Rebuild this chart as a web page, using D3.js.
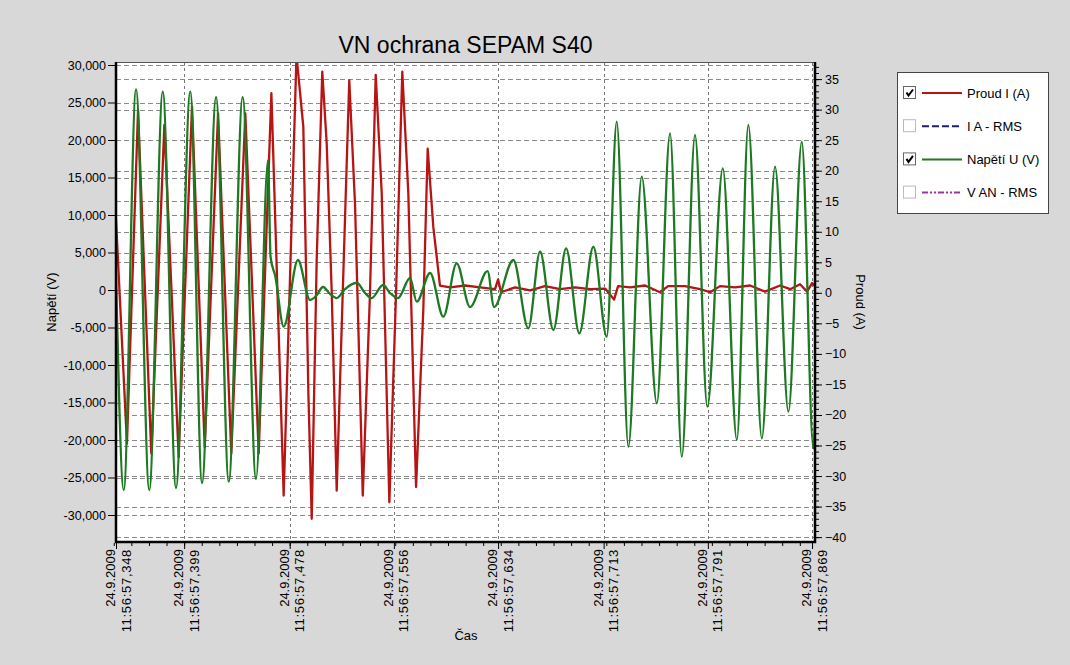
<!DOCTYPE html>
<html>
<head>
<meta charset="utf-8">
<script src="https://cdn.jsdelivr.net/npm/d3@7"></script>
<style>
body { margin: 0; background: #d8d8d8; }
text { font-family: 'Liberation Sans', Arial, sans-serif; fill: #000; }
</style>
</head>
<body>
<div id="chart"></div>
<script>
// time in ms after 11:56:57 (24.9.2009)
const timeTicks = [348, 399, 478, 556, 634, 713, 791, 869];
const timeTickLabels = ['11:56:57,348', '11:56:57,399', '11:56:57,478', '11:56:57,556',
    '11:56:57,634', '11:56:57,713', '11:56:57,791', '11:56:57,869'];
const dateLabel = '24.9.2009';

const voltTicks = [-30000, -25000, -20000, -15000, -10000, -5000, 0, 5000, 10000, 15000, 20000, 25000, 30000];
const currTicks = [-40, -35, -30, -25, -20, -15, -10, -5, 0, 5, 10, 15, 20, 25, 30, 35];

// Napětí U (V)
const voltTime = [348.0, 353.8, 363.0, 372.9, 383.0, 392.9, 403.6, 412.4, 422.9, 432.4, 442.8, 452.8,
    461.8, 463.7, 467.3, 473.5, 484.2, 493.2, 497.7, 503.0, 508.2, 513.2, 519.4, 528.2, 534.4, 539.4,
    547.9, 553.1, 559.1, 568.1, 573.1, 583.1, 593.0, 603.0, 613.0, 626.1, 631.0, 645.4, 656.6, 665.4,
    675.4, 684.9, 694.8, 705.3, 715.3, 722.8, 731.5, 741.5, 752.8, 762.7, 771.5, 781.4, 790.6, 802.2,
    812.7, 821.3, 831.4, 841.3, 851.3, 861.3, 870.0, 871.2];
const voltValue = [2000, -26670, 26760, -26670, 26440, -26400, 26440, -25730, 25730, -25560, 25730, -25200,
    17330, 4400, 1770, -4890, 4000, -1330, -800, 400, -530, -1070, 130, 970, -400, -1070,
    670, -400, -1070, 1600, -1560, 2270, -3560, 3560, -2270, 2530, -2270, 4000, -5110, 5110,
    -5330, 5560, -5770, 5770, -6230, 22440, -20900, 15110, -15110, 20890, -22230, 20670, -15560, 16230,
    -20000, 22000, -19780, 16440, -16230, 19770, -21110, -17300];

// Proud I (A)
const currTime = [348.0, 356.2, 364.5, 374.4, 384.2, 394.9, 404.9, 414.4, 424.4, 434.3, 444.8, 454.8,
    464.3, 473.5, 483.1, 488.2, 489.5, 492.0, 494.5, 498.2, 502.4, 505.7, 509.5, 513.2, 517.7, 522.6,
    526.9, 529.4, 532.7, 538.1, 542.4, 546.9, 549.4, 552.6, 557.6, 562.3, 566.8, 570.1, 572.6, 578.0,
    581.3, 585.5, 590.5, 598.0, 609.3, 620.5, 631.7, 634.0, 636.2, 646.7, 657.9, 669.1, 680.4, 691.6,
    702.8, 714.1, 720.8, 723.8, 732.8, 744.0, 755.2, 761.2, 773.9, 785.2, 792.7, 800.1, 811.4, 822.6,
    833.8, 845.1, 852.6, 860.0, 865.3, 869.0, 871.2];
const currValue = [12, -24.7, 29.9, -26.3, 27.5, -26.9, 30.5, -25.3, 29.4, -26.3, 29.4, -26.3,
    32.7, -33.2, 38.9, 27.2, 12.4, -16.5, -37.0, 5.3, 36.2, 24.5, -0.1, -32.4, -0.1, 34.8,
    14.6, -5.6, -33.2, -0.1, 35.7, 16.3, -5.6, -34.3, -0.1, 36.2, 16.3, -11.1, -31.8, -2.9,
    23.6, 10.8, 1.2, 0.9, 1.2, 0.9, 0.6, 2.2, 0.1, 0.9, 0.4, 1.1, 0.6, 0.9,
    0.6, 0.7, -1.1, 1.1, 0.9, 1.2, 0.1, 1.1, 1.1, 0.6, 0.1, 1.1, 0.9, 1.2,
    0.2, 1.2, 0.6, 1.4, 0.2, 1.6, 1.1];

const legendLabels = ['Proud I (A)', 'I A - RMS', 'Napětí U (V)', 'V AN - RMS'];
const legendColors = ['#b81414', '#1c1c78', '#1d7a22', '#a030a8'];
const legendDash = [null, '7,3', null, '6,2,2,2,2,2'];
const legendChecked = [true, false, true, false];

const width = 1070,
    height = 665,
    plot = { left: 116, right: 815, top: 62, bottom: 542 },
    fmt = d3.formatLocale({ decimal: '.', thousands: ',', grouping: [3], currency: ['', ''], minus: '-' }).format(',');

let svg = d3.select('#chart')
    .append('svg')
        .attr('width', width)
        .attr('height', height);

svg.append('rect')
    .attr('width', width)
    .attr('height', height)
    .attr('fill', '#d8d8d8');

let x = d3.scaleLinear().domain([348, 871.2]).range([plot.left, plot.right]),
    yV = d3.scaleLinear().domain([-33600, 30400]).range([plot.bottom, plot.top]),
    yI = d3.scaleLinear().domain([-40.8, 37.8]).range([plot.bottom, plot.top]);

// plot background
svg.append('rect')
    .attr('x', plot.left)
    .attr('y', plot.top)
    .attr('width', plot.right - plot.left)
    .attr('height', plot.bottom - plot.top)
    .attr('fill', '#fff');

// grid
let gridG = svg.append('g').attr('class', 'grid');
gridG.selectAll('line.gv')
    .data(voltTicks)
    .enter()
    .append('line')
        .attr('class', 'gv')
        .attr('x1', plot.left).attr('x2', plot.right)
        .attr('y1', d => Math.round(yV(d)) + 0.5).attr('y2', d => Math.round(yV(d)) + 0.5)
        .attr('stroke', '#8a8a8a')
        .attr('stroke-dasharray', '5,3');
gridG.selectAll('line.gi')
    .data(currTicks)
    .enter()
    .append('line')
        .attr('class', 'gi')
        .attr('x1', plot.left).attr('x2', plot.right)
        .attr('y1', d => Math.round(yI(d)) + 0.5).attr('y2', d => Math.round(yI(d)) + 0.5)
        .attr('stroke', '#8a8a8a')
        .attr('stroke-dasharray', '5,3');
gridG.selectAll('line.gt')
    .data(timeTicks)
    .enter()
    .append('line')
        .attr('class', 'gt')
        .attr('x1', d => Math.round(x(d)) + 0.5).attr('x2', d => Math.round(x(d)) + 0.5)
        .attr('y1', plot.top).attr('y2', plot.bottom)
        .attr('stroke', '#777')
        .attr('stroke-dasharray', '3,3');

// series
svg.append('clipPath')
    .attr('id', 'plotclip')
    .append('rect')
        .attr('x', plot.left)
        .attr('y', plot.top)
        .attr('width', plot.right - plot.left)
        .attr('height', plot.bottom - plot.top);

let seriesG = svg.append('g').attr('clip-path', 'url(#plotclip)');

let currLine = d3.line()
    .x(d => x(d[0]))
    .y(d => yI(d[1]));
let voltLine = d3.line()
    .x(d => x(d[0]))
    .y(d => yV(d[1]))
    .curve(d3.curveMonotoneX);

seriesG.append('path')
    .datum(d3.zip(currTime, currValue))
    .attr('d', currLine)
    .attr('fill', 'none')
    .attr('stroke', legendColors[0])
    .attr('stroke-width', 2.3)
    .attr('stroke-linejoin', 'round');

seriesG.append('path')
    .datum(d3.zip(voltTime, voltValue))
    .attr('d', voltLine)
    .attr('fill', 'none')
    .attr('stroke', legendColors[2])
    .attr('stroke-width', 2.3);

// plot frame
svg.append('line')
    .attr('x1', plot.left).attr('x2', plot.right)
    .attr('y1', plot.top + 0.5).attr('y2', plot.top + 0.5)
    .attr('stroke', '#555');
svg.append('path')
    .attr('d', 'M' + plot.left + ',' + plot.top + 'V' + plot.bottom + 'H' + plot.right + 'V' + plot.top)
    .attr('fill', 'none')
    .attr('stroke', '#000')
    .attr('stroke-width', 2.5);

// axes
let leftAxis = svg.append('g')
    .attr('transform', 'translate(' + (plot.left - 1) + ',0)')
    .call(d3.axisLeft(yV).tickValues(voltTicks).tickSize(7).tickPadding(2).tickFormat(fmt));

let rightMinor = svg.append('g')
    .attr('transform', 'translate(' + (plot.right + 1) + ',0)')
    .call(d3.axisRight(yI).tickValues(d3.range(-40, 38, 1)).tickSize(3).tickFormat(''));

let rightAxis = svg.append('g')
    .attr('transform', 'translate(' + (plot.right + 1) + ',0)')
    .call(d3.axisRight(yI).tickValues(currTicks).tickSize(6).tickPadding(3).tickFormat(d3.format('d')));

let minorStep = (478 - 399) / 6;
let bottomMinor = svg.append('g')
    .attr('transform', 'translate(0,' + (plot.bottom + 1) + ')')
    .call(d3.axisBottom(x).tickValues(d3.range(399 - 4 * minorStep, 871, minorStep)).tickSize(3).tickFormat(''));

let bottomAxis = svg.append('g')
    .attr('transform', 'translate(0,' + (plot.bottom + 1) + ')')
    .call(d3.axisBottom(x).tickValues(timeTicks).tickSize(6).tickFormat(''));

[leftAxis, rightAxis, rightMinor, bottomMinor, bottomAxis].forEach(a => {
    a.select('.domain').remove();
    a.selectAll('line').attr('stroke', '#000');
    a.selectAll('text')
        .style('font-family', "'Liberation Sans', Arial, sans-serif")
        .style('font-size', '12.5px')
        .attr('fill', '#000');
});

let xLabels = svg.append('g')
    .selectAll('g')
    .data(timeTicks)
    .enter()
    .append('g')
        .attr('transform', d => 'translate(' + x(d) + ',549) rotate(-90)');
xLabels.append('text')
    .attr('text-anchor', 'end')
    .attr('y', -1)
    .style('font-size', '13px')
    .text(dateLabel);
xLabels.append('text')
    .attr('text-anchor', 'end')
    .attr('y', 14.5)
    .style('font-size', '13px')
    .style('letter-spacing', '0.7px')
    .text((d, i) => timeTickLabels[i]);

// titles
svg.append('text')
    .attr('x', (plot.left + plot.right) / 2)
    .attr('y', 53)
    .attr('text-anchor', 'middle')
    .style('font-size', '23px')
    .text('VN ochrana SEPAM S40');

svg.append('text')
    .attr('x', 466)
    .attr('y', 640)
    .attr('text-anchor', 'middle')
    .style('font-size', '13px')
    .text('Čas');

svg.append('text')
    .attr('transform', 'translate(56,' + (plot.top + plot.bottom) / 2 + ') rotate(-90)')
    .attr('text-anchor', 'middle')
    .style('font-size', '13px')
    .text('Napětí (V)');

svg.append('text')
    .attr('transform', 'translate(856,' + (plot.top + plot.bottom) / 2 + ') rotate(90)')
    .attr('text-anchor', 'middle')
    .style('font-size', '13px')
    .text('Proud (A)');

// legend
let legendG = svg.append('g').attr('class', 'legend');
legendG.append('rect')
    .attr('x', 897.5).attr('y', 72.5)
    .attr('width', 151).attr('height', 141)
    .attr('fill', '#fff')
    .attr('stroke', '#444');

let items = legendG.selectAll('g.item')
    .data(legendLabels)
    .enter()
    .append('g')
        .attr('class', 'item')
        .attr('transform', (d, i) => 'translate(0,' + (93 + i * 33.2) + ')');

items.append('rect')
    .attr('x', 903.5).attr('y', -6.5)
    .attr('width', 12).attr('height', 12)
    .attr('fill', '#fff')
    .attr('stroke', (d, i) => legendChecked[i] ? '#666' : '#bbb');
items.filter((d, i) => legendChecked[i])
    .append('path')
        .attr('d', 'M906.5,-0.5 L908.5,2.5 L913,-3.5')
        .attr('fill', 'none')
        .attr('stroke', '#000')
        .attr('stroke-width', 2);
items.append('line')
    .attr('x1', 922).attr('x2', 962)
    .attr('y1', 0).attr('y2', 0)
    .attr('stroke', (d, i) => legendColors[i])
    .attr('stroke-width', 2)
    .attr('stroke-dasharray', (d, i) => legendDash[i]);
items.append('text')
    .attr('x', 967)
    .attr('y', 4.5)
    .style('font-size', '13px')
    .text(d => d);
</script>
</body>
</html>
